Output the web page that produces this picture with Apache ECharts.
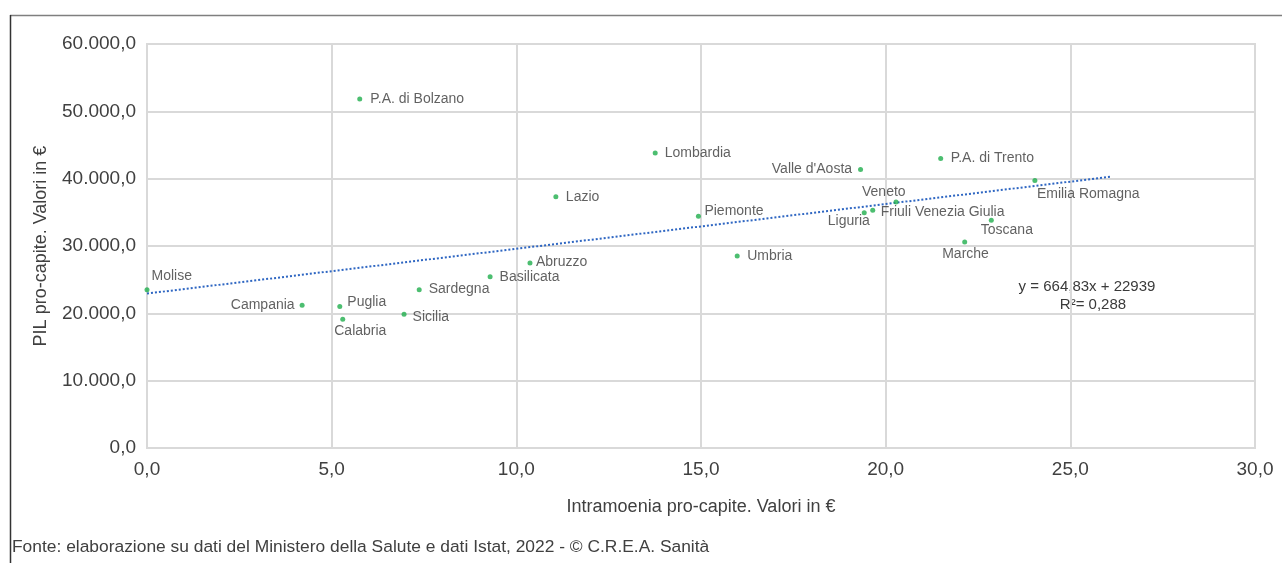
<!DOCTYPE html>
<html>
<head>
<meta charset="utf-8">
<script src="https://cdn.jsdelivr.net/npm/echarts@6/dist/echarts.min.js"></script>
<style>
html,body{margin:0;padding:0;background:#fff;}
#chart{width:1282px;height:563px;}
</style>
</head>
<body>
<div id="chart"></div>
<script>
// ---- data ----
var regions = ["Molise","Campania","Puglia","Calabria","Sicilia","Sardegna","Basilicata","Abruzzo",
  "P.A. di Bolzano","Lazio","Lombardia","Piemonte","Umbria","Valle d'Aosta","Liguria",
  "Friuli Venezia Giulia","Veneto","P.A. di Trento","Marche","Toscana","Emilia Romagna"];
var intramoenia = [0.0, 4.20, 5.22, 5.30, 6.96, 7.37, 9.29, 10.37,
  5.76, 11.07, 13.76, 14.93, 15.98, 19.32, 19.42,
  19.65, 20.28, 21.49, 22.14, 22.86, 24.04];
var pil = [23520, 21200, 21000, 19120, 19860, 23520, 25450, 27490,
  51850, 37300, 43830, 34430, 28530, 41350, 34920,
  35320, 36550, 42990, 30610, 33830, 39720];
var trendLine = [[0, 22939], [26.1, 40291]];
var equationText = "y = 664,83x + 22939";
var r2Text = "R²= 0,288";
var xTicks = [0, 5, 10, 15, 20, 25, 30];
var yTicks = [0, 10000, 20000, 30000, 40000, 50000, 60000];
var xTitle = "Intramoenia pro-capite. Valori in €";
var yTitle = "PIL pro-capite. Valori in €";
var footer = "Fonte: elaborazione su dati del Ministero della Salute e dati Istat, 2022 - © C.R.E.A. Sanità";

// ---- label placement (style) ----
var labelPlace = {
  "Molise": {pos:"right", off:[-3,-13]},
  "Campania": {pos:"left", off:[0,0]},
  "Puglia": {pos:"right", off:[0,-4]},
  "Calabria": {pos:"right", off:[-16,12]},
  "Sicilia": {pos:"right", off:[1,3]},
  "Sardegna": {pos:"right", off:[2,0]},
  "Basilicata": {pos:"right", off:[2,1]},
  "Abruzzo": {pos:"right", off:[-1.5,-1]},
  "P.A. di Bolzano": {pos:"right", off:[3,0]},
  "Lazio": {pos:"right", off:[2.5,0]},
  "Lombardia": {pos:"right", off:[2,0]},
  "Piemonte": {pos:"right", off:[-1.5,-5.5]},
  "Umbria": {pos:"right", off:[2.5,0]},
  "Valle d'Aosta": {pos:"left", off:[-1,0]},
  "Liguria": {pos:"right", off:[-44,8.7]},
  "Friuli Venezia Giulia": {pos:"right", off:[0.5,1.7]},
  "Veneto": {pos:"right", off:[-41.5,-9.7]},
  "P.A. di Trento": {pos:"right", off:[2.5,0]},
  "Marche": {pos:"right", off:[-30,12]},
  "Toscana": {pos:"right", off:[-18,9.7]},
  "Emilia Romagna": {pos:"right", off:[-5.5,13.3]}
};

var fmt = function(v, dec){
  var s = Math.abs(v).toFixed(dec);
  var parts = s.split(".");
  parts[0] = parts[0].replace(/\B(?=(\d{3})+(?!\d))/g, ".");
  return (v<0?"-":"") + parts.join(",");
};

var pts = regions.map(function(n, i){
  var lp = labelPlace[n];
  return {name:n, value:[intramoenia[i], pil[i]],
    label:{position:lp.pos, offset:lp.off}};
});

var FONT = "'Liberation Sans', Arial, sans-serif";
var chart = echarts.init(document.getElementById('chart'), null, {renderer:'canvas'});
chart.setOption({
  animation:false,
  backgroundColor:'#ffffff',
  grid:{left:147, top:44, right:27, bottom:115, show:true, borderColor:'#d9d9d9', borderWidth:2},
  xAxis:{
    type:'value', min:xTicks[0], max:xTicks[xTicks.length-1], interval:5,
    name:xTitle, nameLocation:'middle', nameGap:50,
    nameTextStyle:{color:'#404040', fontSize:18, fontFamily:FONT},
    axisLine:{show:true, lineStyle:{color:'#d9d9d9', width:2}},
    axisTick:{show:false},
    splitLine:{show:true, lineStyle:{color:'#d9d9d9', width:2}},
    axisLabel:{color:'#404040', fontSize:19, fontFamily:FONT, margin:12,
      formatter:function(v){return fmt(v,1);}}
  },
  yAxis:{
    type:'value', min:yTicks[0], max:yTicks[yTicks.length-1], interval:10000,
    name:yTitle, nameLocation:'middle', nameGap:97, nameRotate:90,
    nameTextStyle:{color:'#404040', fontSize:18, fontFamily:FONT},
    axisLine:{show:true, lineStyle:{color:'#d9d9d9', width:2}},
    axisTick:{show:false},
    splitLine:{show:true, lineStyle:{color:'#d9d9d9', width:2}},
    axisLabel:{color:'#404040', fontSize:19, fontFamily:FONT, margin:11,
      formatter:function(v){return fmt(v,1);}}
  },
  series:[
    {
      type:'line', data:trendLine, symbol:'none', silent:true, z:3,
      lineStyle:{color:'#2e66c2', width:2, type:[2,2]}
    },
    {
      type:'scatter', data:pts, symbol:'circle', symbolSize:5, z:4,
      itemStyle:{color:'#1fae4c'},
      label:{show:true, formatter:'{b}', color:'#3a3a3a', fontSize:14, fontFamily:FONT, distance:5}
    }
  ],
  graphic:[
    {type:'line', shape:{x1:10, y1:15.5, x2:1282, y2:15.5}, style:{stroke:'#7f7f7f', lineWidth:1.5}},
    {type:'line', shape:{x1:10.5, y1:15, x2:10.5, y2:563}, style:{stroke:'#333333', lineWidth:1.5}},
    {type:'text', x:0, y:0, style:{text:equationText, x:1087, y:287, textAlign:'center', textVerticalAlign:'middle', fill:'#3a3a3a', font:'15px '+FONT}},
    {type:'text', x:0, y:0, style:{text:r2Text, x:1093, y:305, textAlign:'center', textVerticalAlign:'middle', fill:'#3a3a3a', font:'15px '+FONT}},
    {type:'text', x:0, y:0, style:{text:footer, x:12, y:547, textAlign:'left', textVerticalAlign:'middle', fill:'#404040', font:'17.4px '+FONT}}
  ]
});
</script>
</body>
</html>
